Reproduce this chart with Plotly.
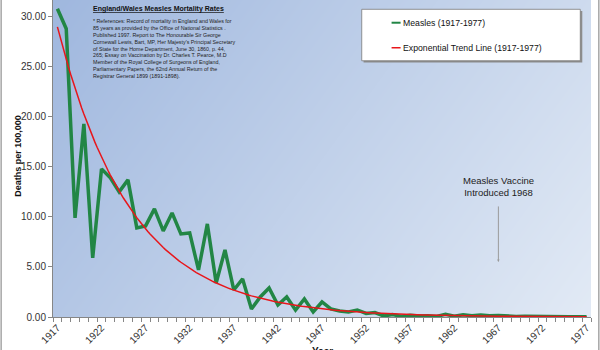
import numpy as np
import plotly.graph_objects as go

# Measles deaths per 100,000, England & Wales
years = list(range(1917, 1978))
deaths = [
    30.8, 28.8, 9.9, 19.3, 5.9, 14.8, 13.9, 12.5, 13.7, 8.9,
    9.1, 10.8, 8.6, 10.4, 8.3, 8.4, 4.7, 9.3, 3.4, 6.7,
    2.7, 3.8, 0.8, 2.0, 2.9, 1.2, 2.0, 0.7, 1.8, 0.5,
    1.5, 0.8, 0.6, 0.5, 0.7, 0.35, 0.45, 0.1, 0.25, 0.06,
    0.18, 0.09, 0.12, 0.06, 0.28, 0.07, 0.22, 0.12, 0.2, 0.13,
    0.15, 0.08, 0.06, 0.07, 0.045, 0.045, 0.045, 0.03, 0.022, 0.024,
    0.035,
]
tick_years = list(range(1917, 1978, 5))
y_ticks = [0, 5, 10, 15, 20, 25, 30]

W, H = 600, 350
L, R, T, B = 53.3, 9.3, 0, 33.3
pw, ph = W - L - R, H - T - B
Y_MAX = 31.67


def px(xp):
    return (xp - L) / pw


def py(yp):
    return (H - B - yp) / ph


# exponential trend (least squares on log values, as a spreadsheet trendline does)
x_arr = np.array(years, dtype=float)
b, ln_a = np.polyfit(x_arr - 1917, np.log(np.array(deaths)), 1)
x_fit = np.linspace(1917, 1977, 241)
y_fit = np.exp(ln_a + b * (x_fit - 1917))

fig = go.Figure()

# gradient plot background
fig.add_trace(go.Heatmap(
    x=[1916.5, 1977.5], y=[0, Y_MAX],
    z=[[0.3, 1.0], [0.0, 0.7]],
    colorscale=[[0, "#9fb7de"], [1, "#e2eaf5"]],
    zsmooth="best", showscale=False, hoverinfo="skip",
))

fig.add_trace(go.Scatter(
    x=years, y=deaths, mode="lines", name="Measles (1917-1977)",
    line=dict(color="#228645", width=3.5),
))
fig.add_trace(go.Scatter(
    x=x_fit, y=y_fit, mode="lines", name="Exponential Trend Line (1917-1977)",
    line=dict(color="#e8161b", width=1.5),
))

fig.update_layout(
    width=W, height=H,
    margin=dict(l=L, r=R, t=T, b=B),
    paper_bgcolor="white", plot_bgcolor="white",
    showlegend=False,
    font=dict(family="Liberation Sans, Arial, sans-serif", color="#333333"),
)

fig.update_xaxes(
    range=[1916.5, 1977.5], showgrid=False, zeroline=False,
    showline=True, linecolor="#868686", linewidth=1,
    tickmode="array", tickvals=tick_years, ticktext=[str(v) for v in tick_years],
    tickangle=-45, ticks="", tickfont=dict(size=10, color="#333333"),
    minor=dict(tick0=1916.5, dtick=1, ticks="outside", ticklen=4,
               tickcolor="#868686", showgrid=False),
)
fig.update_yaxes(
    range=[0, Y_MAX], showgrid=False, zeroline=False,
    showline=True, linecolor="#868686", linewidth=1,
    tickmode="array", tickvals=y_ticks, tickformat=".2f",
    ticks="outside", ticklen=4, tickcolor="#868686",
    tickfont=dict(size=10, color="#333333"),
)

# axis titles
fig.add_annotation(
    text="<b>Deaths per 100,000</b>", textangle=-90,
    xref="paper", yref="paper", x=px(11), y=py(156),
    showarrow=False, font=dict(size=9, color="#111111"),
)
fig.add_annotation(
    text="<b>Year</b>", xref="paper", yref="paper",
    x=0.5, y=py(344), yanchor="top", showarrow=False,
    font=dict(size=10, color="#111111"),
)

# title and references block
fig.add_annotation(
    text="<b><u>England/Wales Measles Mortality Rates</u></b>",
    xref="paper", yref="paper", x=px(91.5), y=py(8.5),
    xanchor="left", yanchor="middle", showarrow=False,
    font=dict(size=7, color="#111111"),
)
refs = [
    "* References: Record of mortality in England and Wales for",
    "85 years as provided by the Office of National Statistics .",
    "Published 1997. Report to The Honourable Sir George",
    "Cornewall Lewis, Bart, MP, Her Majesty's Principal Secretary",
    "of State for the Home Department, June 30, 1860, p. 44,",
    "265; Essay on Vaccination by Dr. Charles T. Pearce, M.D",
    "Member of the Royal College of Surgeons of England,",
    "Parliamentary Papers, the 62nd Annual Return of the",
    "Registrar General 1899 (1891-1898).",
]
fig.add_annotation(
    text="<br>".join(refs), align="left",
    xref="paper", yref="paper", x=px(91.5), y=py(15.5),
    xanchor="left", yanchor="top", showarrow=False,
    font=dict(size=5.3, color="#222222"),
)

# vaccine marker
fig.add_annotation(
    x=1967, y=5.5, ax=0, ay=-57, xref="x", yref="y",
    showarrow=True, arrowhead=2, arrowsize=0.5, arrowwidth=1,
    arrowcolor="#9a9a9a", text="",
)
fig.add_annotation(
    text="Measles Vaccine<br>Introduced 1968", xref="x", yref="paper",
    x=1967, y=py(199.5), yanchor="bottom", showarrow=False,
    font=dict(size=9.5, color="#222222"),
)

# legend box drawn by hand
shapes = [
    dict(type="rect", xref="paper", yref="paper",
         x0=px(363.5), x1=px(582), y0=py(62.5), y1=py(11),
         fillcolor="#8c8c8c", line=dict(width=0), layer="above"),
    dict(type="rect", xref="paper", yref="paper",
         x0=px(361.7), x1=px(580), y0=py(60.7), y1=py(9.3),
         fillcolor="white", line=dict(color="#7a7a7a", width=0.8), layer="above"),
    dict(type="line", xref="paper", yref="paper",
         x0=px(391.5), x1=px(400.5), y0=py(22.7), y1=py(22.7),
         line=dict(color="#228645", width=2), layer="above"),
    dict(type="line", xref="paper", yref="paper",
         x0=px(391.5), x1=px(400.5), y0=py(47.7), y1=py(47.7),
         line=dict(color="#e8161b", width=1.5), layer="above"),
    # outer frame edges
    dict(type="line", xref="paper", yref="paper",
         x0=px(1.5), x1=px(1.5), y0=py(0), y1=py(350),
         line=dict(color="#a6a6a6", width=1.5)),
    dict(type="line", xref="paper", yref="paper",
         x0=px(598.5), x1=px(598.5), y0=py(0), y1=py(350),
         line=dict(color="#a6a6a6", width=1.5)),
]
fig.update_layout(shapes=shapes)
for label, yp in [("Measles (1917-1977)", 22.7),
                  ("Exponential Trend Line (1917-1977)", 47.7)]:
    fig.add_annotation(
        text=label, xref="paper", yref="paper", x=px(401), y=py(yp),
        xanchor="left", yanchor="middle", showarrow=False,
        font=dict(size=8.7, color="#111111"),
    )

fig.write_html("out.html")
